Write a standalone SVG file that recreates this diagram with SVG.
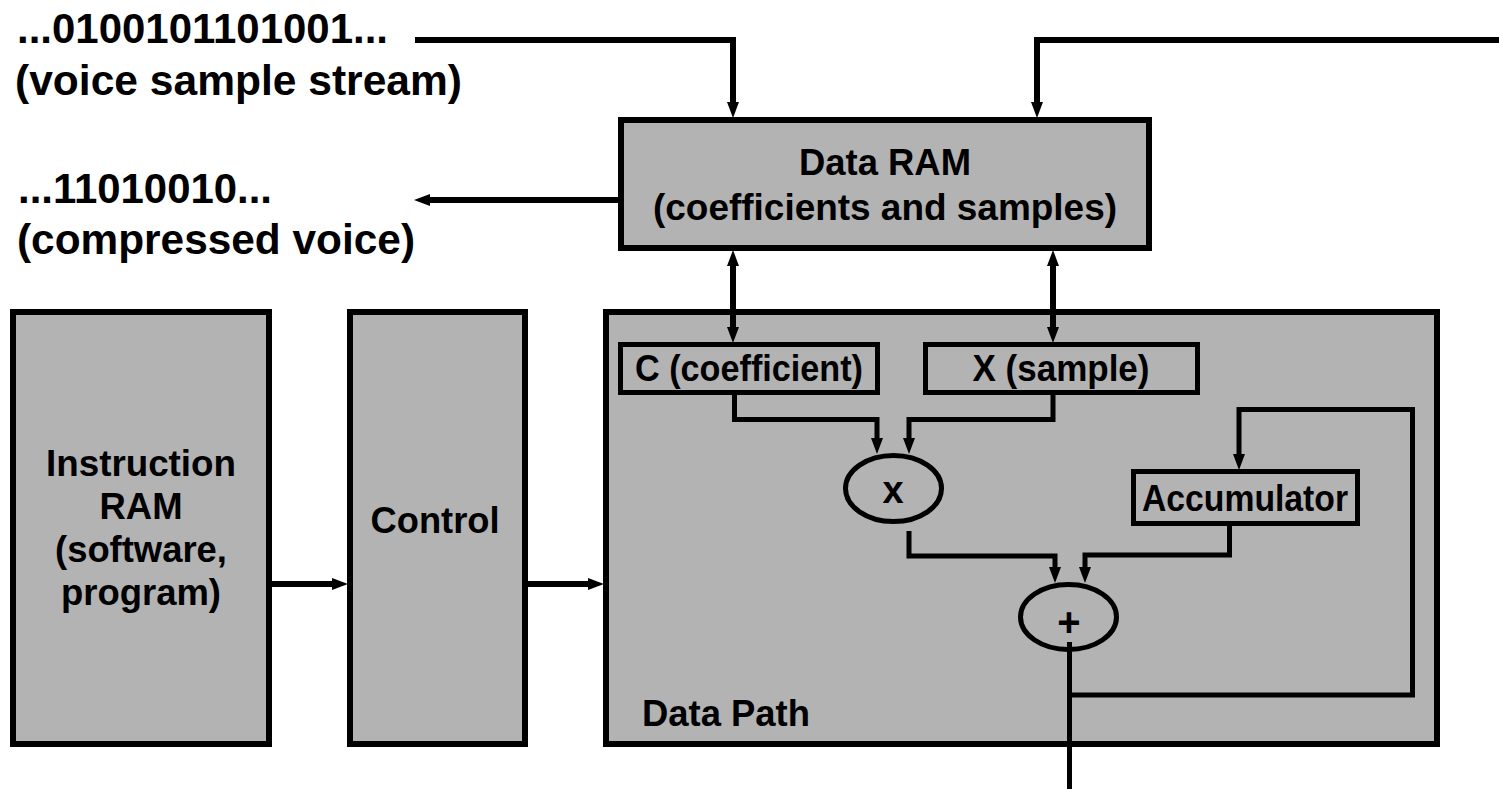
<svg xmlns="http://www.w3.org/2000/svg" width="1499" height="789" viewBox="0 0 1499 789">
  <style>
    .box { fill: #b3b3b3; stroke: #000; stroke-width: 6; }
    .sub { fill: #b3b3b3; stroke: #000; stroke-width: 5; }
    .op { fill: none; stroke: #000; stroke-width: 5; }
    .wire { fill: none; stroke: #000; stroke-width: 6; stroke-linejoin: miter; }
    .iwire { fill: none; stroke: #000; stroke-width: 5; stroke-linejoin: miter; }
    .arr { marker-end: url(#head); }
    .bi { marker-start: url(#head); marker-end: url(#head); }
    text { font-family: "Liberation Sans", Arial, Helvetica, sans-serif; font-weight: bold; fill: #000; }
    .big { font-size: 42px; }
    .lbl { font-size: 36px; }
    .mid { text-anchor: middle; }
  </style>
  <defs>
    <marker id="head" markerUnits="userSpaceOnUse" markerWidth="16" markerHeight="12" refX="2" refY="6" orient="auto-start-reverse" viewBox="0 0 16 12">
      <path d="M0,0 L16,6 L0,12 z" fill="#000"/>
    </marker>
  </defs>

  <!-- stream labels -->
  <g id="stream-in">
    <text class="big" x="17" y="43" textLength="371" lengthAdjust="spacingAndGlyphs">...0100101101001...</text>
    <text class="big" x="15" y="95" textLength="447" lengthAdjust="spacingAndGlyphs">(voice sample stream)</text>
  </g>
  <g id="stream-out">
    <text class="big" x="18" y="203" textLength="254" lengthAdjust="spacingAndGlyphs">...11010010...</text>
    <text class="big" x="17" y="254" textLength="398" lengthAdjust="spacingAndGlyphs">(compressed voice)</text>
  </g>

  <!-- memory and control blocks -->
  <g id="data-ram">
    <rect class="box" x="621" y="120" width="528" height="128"/>
    <text class="lbl mid" x="885" y="175" textLength="172" lengthAdjust="spacingAndGlyphs">Data RAM</text>
    <text class="lbl mid" x="885" y="220" textLength="464" lengthAdjust="spacingAndGlyphs">(coefficients and samples)</text>
  </g>
  <g id="instruction-ram">
    <rect class="box" x="13" y="312" width="256" height="432"/>
    <text class="lbl mid" x="141" y="476" textLength="190" lengthAdjust="spacingAndGlyphs">Instruction</text>
    <text class="lbl mid" x="141" y="519" textLength="83" lengthAdjust="spacingAndGlyphs">RAM</text>
    <text class="lbl mid" x="141" y="562" textLength="172" lengthAdjust="spacingAndGlyphs">(software,</text>
    <text class="lbl mid" x="141" y="605" textLength="160" lengthAdjust="spacingAndGlyphs">program)</text>
  </g>
  <g id="control">
    <rect class="box" x="350" y="312" width="175" height="432"/>
    <text class="lbl mid" x="435" y="533" textLength="129" lengthAdjust="spacingAndGlyphs">Control</text>
  </g>

  <!-- data path container and its parts -->
  <g id="data-path">
    <rect class="box" x="606" y="312" width="831" height="432"/>
    <text class="lbl" x="642" y="726" textLength="168" lengthAdjust="spacingAndGlyphs">Data Path</text>
  </g>
  <g id="coef-reg">
    <rect class="sub" x="620.5" y="344.5" width="257" height="48"/>
    <text class="lbl" x="635" y="381" textLength="228" lengthAdjust="spacingAndGlyphs">C (coefficient)</text>
  </g>
  <g id="sample-reg">
    <rect class="sub" x="925.5" y="344.5" width="272" height="48"/>
    <text class="lbl mid" x="1061" y="381" textLength="177" lengthAdjust="spacingAndGlyphs">X (sample)</text>
  </g>
  <g id="accumulator">
    <rect class="sub" x="1133.5" y="471.5" width="224" height="52"/>
    <text class="lbl" x="1142" y="511" textLength="206" lengthAdjust="spacingAndGlyphs">Accumulator</text>
  </g>
  <g id="multiplier">
    <ellipse class="op" cx="893.5" cy="488.5" rx="48" ry="33"/>
    <text class="lbl mid" x="893" y="503" style="font-size:38px">x</text>
  </g>
  <g id="adder">
    <ellipse class="op" cx="1068.5" cy="617" rx="48" ry="32.5"/>
    <text class="lbl mid" x="1069" y="636" style="font-size:40px">+</text>
  </g>

  <!-- connectors -->
  <g id="connectors">
    <path class="wire arr" d="M415,40 H733 V104"/>
    <path class="wire arr" d="M1499,40 H1037 V104"/>
    <path class="wire arr" d="M618,200 H428"/>
    <path class="wire bi" d="M733,264 V329"/>
    <path class="wire bi" d="M1053,264 V329"/>
    <path class="iwire arr" d="M734.5,395 V419.5 H877 V440"/>
    <path class="iwire arr" d="M1053,395 V419.5 H909 V440"/>
    <path class="iwire arr" d="M909,531 V556 H1055 V569"/>
    <path class="iwire arr" d="M1229.5,526 V555 H1085 V569"/>
    <path class="iwire arr" d="M1069.5,695 H1412.5 V409.5 H1239 V456"/>
    <path class="iwire" d="M1069.5,642 V789"/>
    <path class="wire arr" d="M272,584 H334"/>
    <path class="wire arr" d="M528,584 H590"/>
  </g>
</svg>
